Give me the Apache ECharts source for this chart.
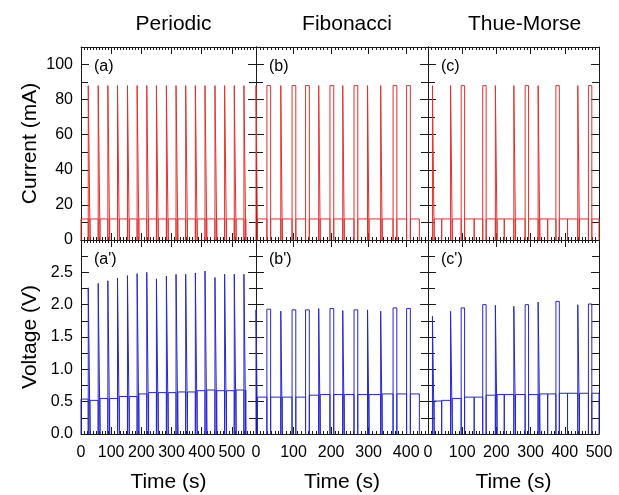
<!DOCTYPE html>
<html><head><meta charset="utf-8">
<script src="https://cdn.jsdelivr.net/npm/echarts@6/dist/echarts.min.js"></script>
<style>html,body{margin:0;padding:0;background:#fff}#c{width:619px;height:495px}</style>
</head><body><div id="c"></div>
<script>
// ---------- data ----------
const panelTitles = ['Periodic', 'Fibonacci', 'Thue-Morse'];
const panelTags = [['(a)', '(b)', '(c)'], ["(a')", "(b')", "(c')"]];
const timeMax = [580, 458, 500];
const currentHigh = 88;   // mA
const currentBase = 12;   // mA

// Periodic: slot start times (s), pulse type per slot (0 none, 1 pulse)
const perStart = [0, 24, 57, 89, 121, 154, 186, 218, 250, 283, 315, 347, 379, 411, 444, 476, 508, 540];
const perType  = [0, 1, 1, 1, 1, 1, 1, 1, 1, 1, 1, 1, 1, 1, 1, 1, 1, 1];
const perWidth = [0, 6];
const perEnd = 546;
const perPeakV = [null, 2.26, 2.33, 2.37, 2.41, 2.45, 2.48, 2.50, 2.40, 2.44, 2.47, 2.47, 2.49, 2.52, 2.42, 2.47, 2.47, 2.47];
const perBaseV = [0.54, 0.52, 0.55, 0.55, 0.58, 0.58, 0.62, 0.64, 0.64, 0.64, 0.65, 0.65, 0.67, 0.68, 0.67, 0.67, 0.68, 0.68];

// Fibonacci: type 1 short pulse, 2 long pulse
const fibStart = [0, 29, 66, 96, 132, 167, 197, 231, 261, 297, 332, 365, 401];
const fibType  = [1, 2, 1, 2, 2, 1, 2, 1, 2, 1, 1, 2, 2];
const fibWidth = [0, 4, 10];
const fibEnd = 435;
const fibPeakV = [1.92, 1.93, 1.90, 1.92, 1.92, 1.94, 1.94, 1.91, 1.92, 1.92, 1.90, 1.95, 1.94];
const fibBaseV = [0.57, 0.57, 0.57, 0.57, 0.60, 0.61, 0.61, 0.61, 0.61, 0.61, 0.62, 0.62, 0.62];

// Thue-Morse: type 0 no pulse, 1 short pulse, 2 long pulse
const tmStart = [13, 40, 66, 97, 135, 160, 197, 223, 251, 284, 322, 350, 374, 408, 438, 469];
const tmType  = [1, 0, 1, 2, 0, 2, 1, 0, 1, 2, 1, 0, 2, 0, 1, 2];
const tmWidth = [0, 5, 10];
const tmEnd = 500;
const tmPeakV = [1.82, null, 1.90, 1.95, null, 2.00, 1.99, null, 1.975, 2.00, 2.04, null, 2.05, null, 2.00, 2.01];
const tmBaseV = [0.51, 0.52, 0.55, 0.57, 0.57, 0.60, 0.61, 0.61, 0.61, 0.61, 0.62, 0.62, 0.63, 0.63, 0.63, 0.63];

// ---------- build step traces from slot tables ----------
function buildTrace(starts, types, widths, end, peakAt, baseAt) {
  const pts = [];
  for (let i = 0; i < starts.length; i++) {
    const s = starts[i];
    const next = i + 1 < starts.length ? starts[i + 1] : end;
    const b = baseAt(i);
    pts.push([s, 0]);
    if (types[i] > 0) {
      const w = widths[types[i]];
      const p = peakAt(i);
      pts.push([s, p], [s + w, p], [s + w, 0], [s + w, b]);
    } else {
      pts.push([s, b]);
    }
    pts.push([next, b]);
  }
  pts.push([end, 0]);
  return pts;
}
const panels = [
  { start: perStart, type: perType, width: perWidth, end: perEnd, peakV: perPeakV, baseV: perBaseV },
  { start: fibStart, type: fibType, width: fibWidth, end: fibEnd, peakV: fibPeakV, baseV: fibBaseV },
  { start: tmStart, type: tmType, width: tmWidth, end: tmEnd, peakV: tmPeakV, baseV: tmBaseV }
];

// ---------- layout ----------
const cols = [{ left: 81, width: 175 }, { left: 256, width: 172 }, { left: 428, width: 171 }];
const rows = [{ top: 47, height: 193 }, { top: 240, height: 194 }];
const font = "'Liberation Sans', Arial, sans-serif";
const axisColor = '#1a1a1a';
const red = '#e2302e', blue = '#2626d2';

const grids = [], xAxes = [], yAxes = [], series = [], graphics = [];
for (let r = 0; r < 2; r++) {
  for (let c = 0; c < 3; c++) {
    const gi = grids.length;
    grids.push({ left: cols[c].left, top: rows[r].top, width: cols[c].width, height: rows[r].height, containLabel: false, outerBoundsMode: 'none' });
    const xBase = {
      type: 'value', gridIndex: gi, min: 0, max: timeMax[c], interval: 100,
      axisLine: { show: true, onZero: false, lineStyle: { color: axisColor, width: 1 } },
      axisTick: { show: true, inside: true, length: 7, lineStyle: { color: axisColor } },
      minorTick: { show: true, splitNumber: 10, length: 3, lineStyle: { color: axisColor } },
      splitLine: { show: false }, minorSplitLine: { show: false }
    };
    xAxes.push(Object.assign({}, xBase, {
      position: 'bottom',
      axisLabel: { show: r === 1, margin: 11, fontSize: 16, fontFamily: font, color: '#000',
        formatter: v => (v % 100 === 0 ? String(v) : '') },
      name: r === 1 ? 'Time (s)' : '', nameLocation: 'middle', nameGap: 38,
      nameTextStyle: { fontSize: 21, fontFamily: font, color: '#000' }
    }));
    xAxes.push(Object.assign({}, xBase, { position: 'top', axisLabel: { show: false } }));
    const isCur = r === 0;
    const yBase = {
      type: 'value', gridIndex: gi, min: 0, max: isCur ? 110 : 3, interval: isCur ? 20 : 0.5,
      axisLine: { show: true, onZero: false, lineStyle: { color: axisColor, width: 1 } },
      axisTick: { show: true, inside: true, length: 8, lineStyle: { color: axisColor } },
      minorTick: { show: true, splitNumber: 2, length: 7, lineStyle: { color: axisColor } },
      splitLine: { show: false }, minorSplitLine: { show: false }
    };
    yAxes.push(Object.assign({}, yBase, {
      position: 'left',
      axisLabel: { show: c === 0, margin: 8, fontSize: 16, fontFamily: font, color: '#000',
        formatter: isCur ? (v => (v <= 100 ? String(v) : '')) : (v => (v < 2.99 ? v.toFixed(1) : '')) },
      name: c === 0 ? (isCur ? 'Current (mA)' : 'Voltage (V)') : '',
      nameLocation: 'middle', nameGap: 40, nameRotate: 90,
      nameTextStyle: { fontSize: 21, fontFamily: font, color: '#000' }
    }));
    yAxes.push(Object.assign({}, yBase, { position: 'right', axisLabel: { show: false } }));

    const p = panels[c];
    const data = isCur
      ? buildTrace(p.start, p.type, p.width, p.end, () => currentHigh, () => currentBase)
      : buildTrace(p.start, p.type, p.width, p.end, i => p.peakV[i], i => p.baseV[i]);
    series.push({
      type: 'line', xAxisIndex: gi * 2, yAxisIndex: gi * 2, data: data,
      showSymbol: false, symbol: 'none', clip: true, animation: false,
      lineStyle: { color: isCur ? red : blue, width: 1 }, silent: true
    });
    graphics.push({
      type: 'text', left: cols[c].left + 13, top: rows[r].top + 12,
      style: { text: panelTags[r][c], fontSize: 16, fontFamily: font, fill: '#000' }
    });
  }
}
const titles = panelTitles.map((t, c) => ({
  text: t, left: cols[c].left + cols[c].width / 2 + (c === 2 ? 6 : 0), top: 9, textAlign: 'center',
  textStyle: { fontSize: 21, fontWeight: 'normal', fontFamily: font, color: '#000' }
}));

const chart = echarts.init(document.getElementById('c'), null, { renderer: 'canvas' });
chart.setOption({
  animation: false, backgroundColor: '#fff',
  title: titles, grid: grids, xAxis: xAxes, yAxis: yAxes, series: series, graphic: graphics
});
</script></body></html>
